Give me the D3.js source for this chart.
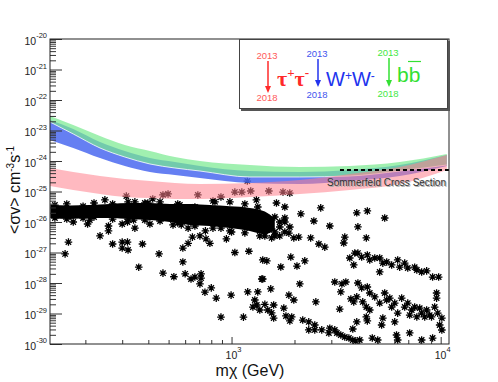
<!DOCTYPE html>
<html>
<head>
<meta charset="utf-8">
<script src="https://cdn.jsdelivr.net/npm/d3@7"></script>
<style>
  body { margin: 0; background: #fff; }
  svg { display: block; font-family: "Liberation Sans", Arial, sans-serif; }
</style>
</head>
<body>
<div id="chart"></div>
<script>
// ---- limit bands (2013 -> 2018), GeV vs cm^3 s^-1
const bandMass = [135.5, 175, 235, 309, 407, 536, 706, 1223, 2120, 3676, 6371, 10700];
const bbHigh  = [2.99e-23, 1.51e-23, 6.6e-24, 3.35e-24, 2.13e-24, 1.35e-24, 1.0e-24, 7.4e-25, 6.36e-25, 6.9e-25, 9.3e-25, 1.7e-24];
const bbLow   = [1.9e-23, 7.7e-24, 2.67e-24, 1.35e-24, 7.98e-25, 5.9e-25, 4.7e-25, 2.99e-25, 2.99e-25, 3.22e-25, 4.7e-25, 7.4e-25];
const wwHigh  = [2.21e-23, 1.12e-23, 4.2e-24, 2.13e-24, 1.25e-24, 9.3e-25, 6.9e-25, 4.7e-25, 4.36e-25, 5.07e-25, 7.4e-25, 1.57e-24];
const wwLow   = [4.89e-24, 2.67e-24, 1.25e-24, 6.9e-25, 4.36e-25, 3.48e-25, 2.77e-25, 1.9e-25, 1.76e-25, 2.21e-25, 3.22e-25, 6.9e-25];
const tauHigh = [5.9e-25, 4.36e-25, 3.22e-25, 2.57e-25, 2.21e-25, 1.9e-25, 1.76e-25, 1.9e-25, 2.38e-25, 3.75e-25, 6.36e-25, 1.57e-24];
const tauLow  = [1.51e-25, 1.12e-25, 8.3e-26, 6.6e-26, 6.1e-26, 5.68e-26, 5.68e-26, 6.6e-26, 8.3e-26, 1.12e-25, 1.76e-25, 5.07e-25];

// ---- Sommerfeld cross section
const sommerfeldMass = [3300, 10960];
const sommerfeldSigma = 5.07e-25;

// ---- model scan: the dense strip and the single points
const denseMass = [136, 169, 210, 262, 327, 407, 507, 632, 788, 982, 1223, 1443, 1610];
const denseHigh = [3.6e-26, 3.5e-26, 3.6e-26, 3.9e-26, 4.2e-26, 4.2e-26, 3.9e-26, 3.9e-26, 3.6e-26, 3.3e-26, 2.9e-26, 2.2e-26, 1.3e-26];
const denseLow  = [1.35e-26, 1.25e-26, 1.35e-26, 1.35e-26, 1.25e-26, 1.16e-26, 1.0e-26, 8.0e-27, 7.4e-27, 6.3e-27, 5.1e-27, 4.0e-27, 5.5e-27];

const scanPoints = [
  // edges of the dense strip
  [143, 3.6e-26], [163, 3.9e-26], [195, 3.3e-26], [220, 4.2e-26], [270, 3.9e-26], [320, 4.6e-26],
  [385, 4.2e-26], [455, 4.6e-26], [553, 3.9e-26], [815, 4.9e-26], [982, 4.6e-26], [1158, 3.9e-26], [1335, 3.1e-26],
  [143, 1.35e-26], [163, 1.25e-26], [195, 1.35e-26], [220, 1.46e-26], [270, 1.25e-26], [320, 1.25e-26],
  [385, 1.16e-26], [455, 1.08e-26], [553, 9.3e-27], [668, 7.4e-27], [815, 6.3e-27], [982, 5.1e-27],
  [1158, 4.4e-27], [1365, 3.5e-27], [1555, 3.0e-27], [1700, 3.5e-27],
  [1443, 1.46e-26], [1524, 1.0e-26], [1610, 1.46e-26], [1701, 1.0e-26], [1524, 6.86e-27], [1610, 4.7e-27],
  [1701, 6.86e-27], [1798, 4.7e-27], [1443, 3.48e-27], [1610, 3.48e-27], [1798, 1.0e-26], [1900, 6.86e-27],
  // scattered
  [248, 5.3e-26], [314, 7.1e-26], [345, 4.6e-26], [420, 5.7e-26], [398, 4.2e-26],
  [175, 1.0e-26], [205, 8.6e-27], [210, 1.16e-26], [258, 7.4e-27], [258, 5.1e-27], [235, 3.5e-27],
  [300, 8.6e-27], [318, 1.0e-26], [340, 1.16e-26], [345, 6.3e-27], [407, 8.6e-27],
  [166, 2.2e-27], [160, 9.0e-28], [270, 1.9e-27], [300, 2.2e-27], [300, 1.4e-27], [318, 2.2e-27],
  [320, 1.21e-27], [375, 1.9e-27], [360, 3.3e-28],
  [470, 7.7e-26], [497, 8.3e-26], [690, 7.7e-26], [890, 6.6e-26], [1037, 9.6e-26], [1120, 9.6e-26], [1235, 1.04e-25],
  [566, 3.6e-26], [668, 3.1e-26], [833, 4.6e-26], [1315, 5.3e-26],
  [525, 8.0e-27], [575, 8.0e-27], [620, 6.3e-27], [750, 5.1e-27], [650, 3.2e-27], [706, 3.5e-27],
  [755, 2.8e-27], [788, 2.0e-27], [620, 2.0e-27], [585, 1.4e-27], [945, 2.8e-27], [1000, 4.7e-27],
  [890, 6.3e-27], [450, 9.0e-28], [1037, 1.0e-27], [1210, 1.1e-27], [585, 4.9e-28], [470, 2.1e-28],
  [530, 1.6e-28], [600, 2.0e-28], [640, 1.35e-28], [668, 1.57e-28], [715, 2.0e-28], [715, 1.45e-28],
  [706, 9.3e-29], [746, 5.0e-29], [800, 6.9e-29], [845, 3.2e-29], [995, 4.0e-29], [890, 7.6e-30],
  [1140, 7.6e-30], [1195, 5.1e-29], [1335, 5.1e-29], [1292, 2.77e-29], [1320, 1.9e-29], [1265, 1.63e-29],
  [1365, 1.3e-29], [1395, 1.35e-28], [1410, 5.7e-28], [1190, 2.2e-25],
  [1508, 1.04e-25], [1762, 9.6e-26], [1899, 8.9e-26],
  [1640, 4.2e-26], [1798, 3.1e-26], [1798, 1.35e-26], [2145, 1.85e-26], [2670, 2.9e-26], [2475, 1.08e-26],
  [2950, 7.4e-27], [1880, 4.3e-27], [1985, 3.0e-27], [2095, 3.2e-27], [2390, 3.0e-27], [2615, 1.9e-27],
  [2792, 1.5e-27], [3479, 3.2e-27], [3440, 2.05e-27], [1475, 5.3e-28], [1720, 3.35e-28], [1920, 7.1e-28],
  [2055, 3.6e-28], [2240, 5.3e-28], [3676, 6.6e-28], [3840, 3.9e-28], [3884, 9.6e-28], [1410, 1.35e-28],
  [1540, 6.4e-29], [2120, 9.3e-29], [3116, 1.08e-28], [3370, 9.3e-29], [3520, 1.08e-28], [3330, 5.1e-29],
  [1880, 4.0e-29], [1985, 2.77e-29], [2530, 2.4e-29], [1443, 2.0e-29], [1490, 1.3e-29], [1590, 1.9e-29],
  [1555, 1.05e-29], [1778, 1.5e-29], [1590, 7.1e-30], [1820, 8.3e-30], [1940, 7.7e-30], [1900, 5.7e-30],
  [2190, 6.1e-30], [2340, 5.3e-30], [2500, 4.2e-30], [2700, 2.9e-30], [2500, 2.9e-30], [2340, 2.9e-30],
  [2950, 3.3e-30], [3116, 2.9e-30], [3190, 2.3e-30], [2920, 2.3e-30], [3330, 1.97e-30], [3479, 1.7e-30],
  [3640, 1.57e-30], [3800, 1.35e-30], [3930, 1.25e-30], [3290, 1.4e-29], [3800, 3.1e-30], [3720, 3.0e-29],
  [3840, 2.4e-29],
  [4460, 2.3e-26], [5400, 1.35e-26], [3970, 2.0e-26], [4020, 6.9e-27], [4410, 3.0e-27],
  [4020, 9.6e-28], [4190, 7.1e-28], [4460, 8.3e-28], [4580, 5.7e-28], [4840, 6.6e-28], [5110, 6.6e-28],
  [5290, 4.5e-28], [5520, 4.9e-28], [5830, 3.9e-28], [6230, 5.7e-28], [6370, 3.3e-28], [6730, 4.5e-28],
  [6960, 3.1e-28], [7510, 3.3e-28], [7690, 2.67e-28], [8110, 2.3e-28], [8570, 2.5e-28], [9150, 1.57e-28],
  [9780, 1.57e-28], [5110, 2.3e-28],
  [4020, 1.0e-28], [4190, 6.9e-29], [4460, 7.4e-29], [4580, 4.7e-29], [3970, 3.5e-29], [4240, 2.4e-29],
  [4410, 1.63e-29], [4580, 1.3e-29], [4840, 3.5e-29], [5110, 2.2e-29], [5400, 4.7e-29], [5520, 2.77e-29],
  [5710, 3.2e-29], [5830, 1.63e-29], [6030, 2.2e-29], [6510, 3.2e-29], [6730, 1.63e-29], [6960, 2.2e-29],
  [7270, 1.3e-29], [7510, 1.63e-29], [7940, 1.5e-29], [8110, 1.03e-29], [8570, 1.3e-29], [8860, 8.9e-30],
  [9360, 1.63e-29], [9560, 3.2e-29], [9560, 4.7e-29], [9680, 1.03e-29], [10130, 7.1e-30], [9890, 4.2e-30],
  [9040, 7.7e-30], [8390, 7.7e-30], [7690, 7.7e-30], [7110, 8.9e-30], [6230, 1.03e-29], [6030, 5.3e-30],
  [5290, 7.1e-30], [4410, 7.7e-30], [4460, 5.7e-30], [3970, 5.3e-30], [5220, 4.2e-30], [6150, 1.97e-30],
  [7110, 2.3e-30], [8110, 1.35e-30], [9150, 1.57e-30], [10130, 2.88e-30], [4710, 1.57e-30], [5000, 1.35e-30],
  [4100, 1.35e-30], [6230, 1.35e-30]
];

// ---- axes
const yTickExponents = [-30, -29, -28, -27, -26, -25, -24, -23, -22, -21, -20];
const xTickExponents = [3, 4];

(function drawChart() {
  const width = 498, height = 382;
  const margin = { top: 39, right: 49, bottom: 38, left: 50 };

  const svg = d3.select("#chart").append("svg")
    .attr("width", width).attr("height", height);

  const x = d3.scaleLog().domain([135.5, 10960]).range([margin.left, width - margin.right]);
  const y = d3.scaleLog().domain([1e-30, 1e-20]).range([height - margin.bottom, margin.top]);

  svg.append("clipPath").attr("id", "plotClip")
    .append("rect")
    .attr("x", margin.left).attr("y", margin.top)
    .attr("width", width - margin.left - margin.right)
    .attr("height", height - margin.top - margin.bottom);

  const plot = svg.append("g").attr("clip-path", "url(#plotClip)");

  // dense strip of models
  const denseArea = d3.area()
    .x((d, i) => x(denseMass[i]))
    .y0((d, i) => y(denseLow[i]))
    .y1((d, i) => y(denseHigh[i]))
    .curve(d3.curveMonotoneX);
  plot.append("path").datum(denseMass).attr("d", denseArea).attr("fill", "#000");

  const star = "M-3.8,0H3.8M0,-3.8V3.8M-2.7,-2.7L2.7,2.7M-2.7,2.7L2.7,-2.7";
  plot.append("g").selectAll("path")
    .data(scanPoints)
    .join("path")
    .attr("d", star)
    .attr("transform", (d) => `translate(${x(d[0])},${y(d[1])})`)
    .attr("stroke", "#000")
    .attr("stroke-width", 1.3)
    .attr("fill", "none");

  function band(high, low) {
    return d3.area()
      .x((d, i) => x(bandMass[i]))
      .y0((d, i) => y(low[i]))
      .y1((d, i) => y(high[i]))
      .curve(d3.curveMonotoneX)(bandMass);
  }

  plot.append("path").attr("d", band(wwHigh, wwLow)).attr("fill", "#4a68f0").attr("opacity", 0.85);
  plot.append("path").attr("d", band(bbHigh, bbLow)).attr("fill", "#77ea8e").attr("opacity", 0.7);
  plot.append("path")
    .attr("d", d3.line().x((d, i) => x(bandMass[i])).y((d, i) => y(bbLow[i])).curve(d3.curveMonotoneX)(bandMass))
    .attr("fill", "none").attr("stroke", "#fff").attr("stroke-width", 1).attr("opacity", 0.8);
  plot.append("path").attr("d", band(tauHigh, tauLow)).attr("fill", "#ff7f8c").attr("opacity", 0.55);

  // Sommerfeld line
  plot.append("line")
    .attr("x1", x(sommerfeldMass[0])).attr("x2", x(sommerfeldMass[1]))
    .attr("y1", y(sommerfeldSigma)).attr("y2", y(sommerfeldSigma))
    .attr("stroke", "#000").attr("stroke-width", 2).attr("stroke-dasharray", "4,3");

  const sx = 446, sy = y(sommerfeldSigma) + 16;
  svg.append("text").attr("x", sx + 1).attr("y", sy + 1).attr("text-anchor", "end")
    .attr("font-size", 10).attr("fill", "#aaa").text("Sommerfeld Cross Section");
  svg.append("text").attr("x", sx).attr("y", sy).attr("text-anchor", "end")
    .attr("font-size", 10).attr("fill", "#333").text("Sommerfeld Cross Section");

  // axes (ROOT style, ticks inside)
  const yMajor = yTickExponents.map((e) => Math.pow(10, e));
  const yMinor = [];
  yTickExponents.slice(0, -1).forEach((e) => {
    for (let k = 2; k <= 9; k++) yMinor.push(k * Math.pow(10, e));
  });
  const xMajor = xTickExponents.map((e) => Math.pow(10, e));
  const xMinor = [200, 300, 400, 500, 600, 700, 800, 900, 2000, 3000, 4000, 5000, 6000, 7000, 8000, 9000];

  const axisColor = "#333";
  function styleAxis(g) {
    g.select(".domain").remove();
    g.selectAll("line").attr("stroke", axisColor);
  }

  svg.append("g").attr("transform", `translate(${margin.left},0)`)
    .call(d3.axisLeft(y).tickValues(yMajor).tickSize(-12).tickFormat(""))
    .call(styleAxis);
  svg.append("g").attr("transform", `translate(${margin.left},0)`)
    .call(d3.axisLeft(y).tickValues(yMinor).tickSize(-6).tickFormat(""))
    .call(styleAxis);
  svg.append("g").attr("transform", `translate(0,${height - margin.bottom})`)
    .call(d3.axisBottom(x).tickValues(xMajor).tickSize(-7).tickFormat(""))
    .call(styleAxis);
  svg.append("g").attr("transform", `translate(0,${height - margin.bottom})`)
    .call(d3.axisBottom(x).tickValues(xMinor).tickSize(-4).tickFormat(""))
    .call(styleAxis);

  // frame
  svg.append("rect")
    .attr("x", margin.left).attr("y", margin.top)
    .attr("width", width - margin.left - margin.right)
    .attr("height", height - margin.top - margin.bottom)
    .attr("fill", "none").attr("stroke", "#222").attr("stroke-width", 1);

  // tick labels
  const yLabels = svg.append("g").selectAll("text")
    .data(yTickExponents)
    .join("text")
    .attr("x", 47)
    .attr("y", (e) => y(Math.pow(10, e)) + 5.5)
    .attr("text-anchor", "end")
    .attr("font-size", 10.5)
    .attr("fill", "#222");
  yLabels.append("tspan").text("10");
  yLabels.append("tspan").attr("dy", -6.5).attr("font-size", 7.5).text((e) => e);

  const xLabels = svg.append("g").selectAll("text")
    .data(xTickExponents)
    .join("text")
    .attr("x", (e) => x(Math.pow(10, e)) + 2)
    .attr("y", 359)
    .attr("text-anchor", "middle")
    .attr("font-size", 10.5)
    .attr("fill", "#222");
  xLabels.append("tspan").text("10");
  xLabels.append("tspan").attr("dy", -7).attr("font-size", 7.5).text((e) => e);

  // axis titles
  svg.append("text")
    .attr("x", 250).attr("y", 376)
    .attr("text-anchor", "middle")
    .attr("font-size", 16).attr("fill", "#111")
    .text("mχ (GeV)");

  const yTitle = svg.append("text")
    .attr("transform", "translate(20,190) rotate(-90)")
    .attr("text-anchor", "middle")
    .attr("font-size", 16).attr("fill", "#111");
  yTitle.append("tspan").text("<σv> cm");
  yTitle.append("tspan").attr("dy", -6).attr("font-size", 10).text("-3");
  yTitle.append("tspan").attr("dy", 6).text("s");
  yTitle.append("tspan").attr("dy", -6).attr("font-size", 10).text("-1");

  // legend
  const lg = svg.append("g");
  lg.append("rect").attr("x", 241).attr("y", 41).attr("width", 209).attr("height", 70).attr("fill", "#555");
  lg.append("rect").attr("x", 239.5).attr("y", 39.5).attr("width", 208).attr("height", 69)
    .attr("fill", "#fff").attr("stroke", "#444").attr("stroke-width", 1);

  const channels = [
    { x: 267, top: 59, tip: 93, bottom: 101, color: "#ff2a2a", light: "#ff5a5a" },
    { x: 317, top: 57, tip: 87, bottom: 98, color: "#2233ee", light: "#4455ee" },
    { x: 388, top: 56, tip: 87, bottom: 97, color: "#33e033", light: "#44e844" }
  ];
  channels.forEach((c) => {
    lg.append("text").attr("x", c.x).attr("y", c.top).attr("text-anchor", "middle")
      .attr("font-size", 9.5).attr("fill", c.light).text("2013");
    lg.append("text").attr("x", c.x).attr("y", c.bottom).attr("text-anchor", "middle")
      .attr("font-size", 9.5).attr("fill", c.light).text("2018");
    lg.append("line").attr("x1", c.x + 1).attr("x2", c.x + 1).attr("y1", c.top + 2).attr("y2", c.tip - 6)
      .attr("stroke", c.color).attr("stroke-width", 1.5);
    lg.append("path")
      .attr("d", `M${c.x + 1 - 3},${c.tip - 7}L${c.x + 1 + 3},${c.tip - 7}L${c.x + 1},${c.tip}Z`)
      .attr("fill", c.color);
  });

  const tau = lg.append("text").attr("x", 277).attr("y", 86)
    .attr("font-family", "'Liberation Serif', 'DejaVu Serif', serif")
    .attr("font-weight", "bold").attr("font-size", 22).attr("fill", channels[0].color);
  tau.append("tspan").text("τ");
  tau.append("tspan").attr("dy", -9).attr("font-size", 13).text("+");
  tau.append("tspan").attr("dy", 9).text("τ");
  tau.append("tspan").attr("dy", -9).attr("font-size", 13).text("-");

  const ww = lg.append("text").attr("x", 326).attr("y", 86)
    .attr("font-size", 20).attr("fill", channels[1].color);
  ww.append("tspan").text("W");
  ww.append("tspan").attr("dy", -6).attr("font-size", 12).text("+");
  ww.append("tspan").attr("dy", 6).text("W");
  ww.append("tspan").attr("dy", -6).attr("font-size", 12).text("-");

  lg.append("text").attr("x", 397).attr("y", 82)
    .attr("font-size", 21).attr("fill", channels[2].color).text("bb");
  lg.append("line").attr("x1", 408).attr("x2", 421).attr("y1", 61.5).attr("y2", 61.5)
    .attr("stroke", channels[2].color).attr("stroke-width", 1.2);
})();
</script>
</body>
</html>
